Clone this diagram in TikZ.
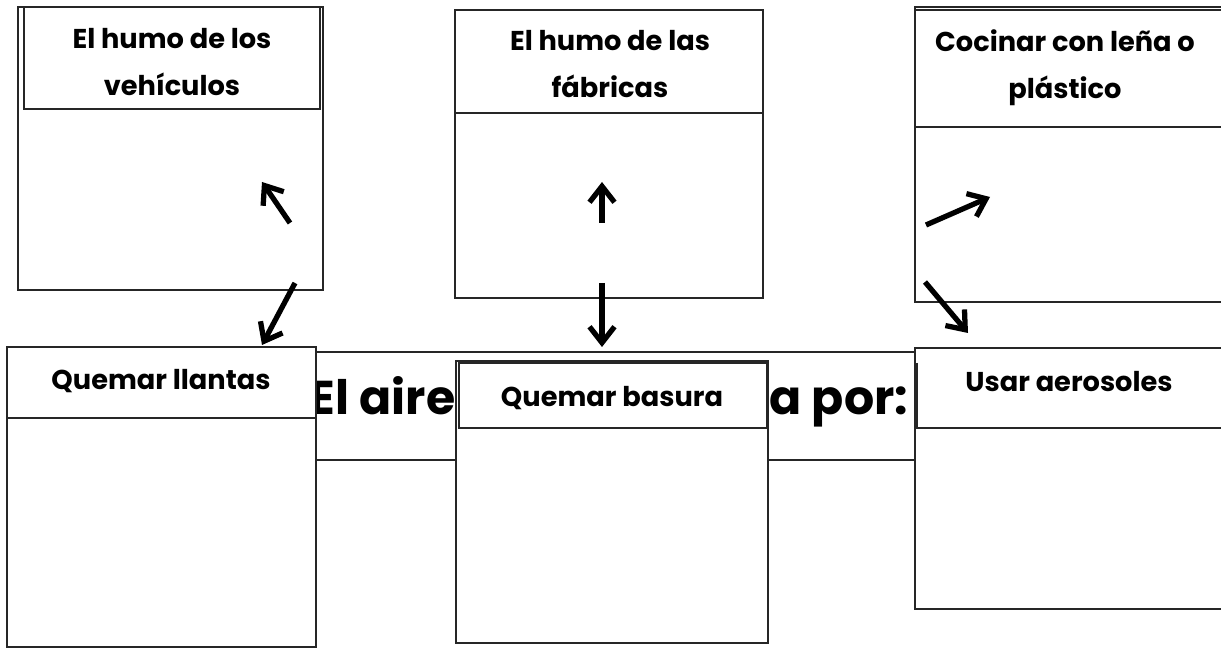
\documentclass[tikz,border=0pt]{standalone}
\usepackage{fontspec}
\setmainfont{Poppins}
\usetikzlibrary{positioning,calc}
\usetikzlibrary{arrows.meta}
\tikzset{panel/.style={draw=black!85,line width=0.7pt,fill=white}, head/.style={font=\bfseries\fontsize{15.5}{27}\selectfont,align=center,text=black}, big/.style={font=\bfseries\fontsize{27}{30}\selectfont,text=black}, pointer/.style={line width=3pt,-{Straight Barb[length=3.2mm,width=5mm]}}}

\begin{document}
\begin{tikzpicture}[x=0.02cm,y=-0.02cm]
\useasboundingbox (0,0) rectangle (1221,648);
\coordinate (va) at (290,223);
\coordinate (vb) at (262,182);
\coordinate (vc) at (295,283);
\coordinate (vd) at (262,345);
\coordinate (fa) at (602,223);
\coordinate (fb) at (602,182);
\coordinate (fc) at (602,283);
\coordinate (fd) at (602,347);
\coordinate (ca) at (926,225);
\coordinate (cb) at (990,197);
\coordinate (cc) at (925,282);
\coordinate (cd) at (968,333);
% title strip
\draw[panel] (10,352) rectangle (1225,460);
\node[big,anchor=base] (title) at (609,415) {El aire se contamina por:};
% top row
\draw[panel] (18,7) rectangle (323,290);
\draw[panel] (24,7) rectangle (320,109);
\node[head] (veh) at (172,62) {El humo de los\\vehículos};
\draw[panel] (455,10) rectangle (763,298);
\draw[draw=black!85,line width=0.7pt] (455,113) -- (763,113);
\node[head] (fab) at (610,64) {El humo de las\\fábricas};
\draw[panel] (915,7) rectangle (1225,302);
\draw[draw=black!85,line width=0.7pt] (915,10) -- (1225,10);
\draw[draw=black!85,line width=0.7pt] (915,127) -- (1225,127);
\node[head] (coc) at (1065,68) {Cocinar con leña o\\plástico};
% bottom row
\draw[panel] (7,347) rectangle (316,647);
\draw[draw=black!85,line width=0.7pt] (7,418) -- (316,418);
\node[head,anchor=base] (lla) at (161,390) {Quemar llantas};
\draw[panel] (456,361) rectangle (768,643);
\draw[panel] (459,363) rectangle (767,428);
\node[head,anchor=base] (bas) at (612,407) {Quemar basura};
\draw[panel] (915,348) rectangle (1225,609);
\draw[draw=black!85,line width=0.7pt] (917,363) -- (917,428);
\draw[draw=black!85,line width=0.7pt] (915,428) -- (1225,428);
\node[head,anchor=base] (aer) at (1069,392) {Usar aerosoles};
% arrows
\draw[pointer] (va) -- (vb);
\draw[pointer] (vc) -- (vd);
\draw[pointer] (fa) -- (fb);
\draw[pointer] (fc) -- (fd);
\draw[pointer] (ca) -- (cb);
\draw[pointer] (cc) -- (cd);
\end{tikzpicture}
\end{document}
